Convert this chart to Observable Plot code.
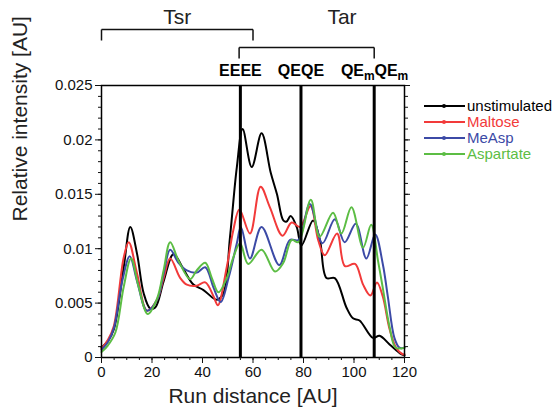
<!DOCTYPE html>
<html>
<head>
<meta charset="utf-8">
<script src="https://cdn.jsdelivr.net/npm/d3@7"></script>
<script src="https://cdn.jsdelivr.net/npm/@observablehq/plot@0.6"></script>
<style>
  html, body { margin: 0; padding: 0; background: #fff; }
  #wrap { position: relative; width: 558px; height: 414px; font-family: "Liberation Sans", Arial, sans-serif; }
  #legend { position: absolute; left: 424px; top: 98px; font-size: 15px; line-height: 16px; }
  .row { display: flex; align-items: center; height: 16px; }
  .sw { position: relative; width: 41px; height: 2px; margin-right: 2px; flex: none; }
  .sw i { position: absolute; left: 18px; top: -1px; width: 4px; height: 4px; border-radius: 2px; }
</style>
</head>
<body>
<div id="wrap"><div id="legend"></div></div>
<script>
// ---- data ----
const seriesNames = ["unstimulated", "Maltose", "MeAsp", "Aspartate"];
const seriesColors = ["#000000", "#f23a3a", "#3c4aa6", "#5cbd44"];

const unstimulated = [[0,0.0009],[2.5,0.0015],[4.9,0.0026],[8.8,0.0083],[11.4,0.0120],[14.1,0.0095],[16.7,0.0059],[19.3,0.0045],[21.3,0.0046],[24.6,0.0070],[28.5,0.0095],[32.5,0.0081],[36.4,0.0067],[40.4,0.0062],[45.7,0.0053],[48.3,0.0059],[50.9,0.0111],[53.6,0.0175],[55.9,0.0210],[59.5,0.0175],[63.4,0.0206],[67.0,0.0170],[69.5,0.0150],[72.0,0.0126],[73.3,0.0125],[74.9,0.0130],[77.3,0.0120],[79.2,0.0103],[83.8,0.0126],[86.5,0.0108],[89.1,0.0073],[92.4,0.0073],[97.0,0.0046],[99.6,0.0036],[102.2,0.0034],[107.5,0.0018],[110.1,0.0020],[114.1,0.0012],[118.7,0.0003],[120,0.0002]];
const maltose = [[0,0.0008],[2.5,0.0016],[4.9,0.0029],[8.8,0.0092],[10.8,0.0106],[14.1,0.0077],[18.0,0.0043],[22.0,0.0053],[24.6,0.0073],[27.2,0.0091],[31.2,0.0073],[33.8,0.0067],[37.7,0.0066],[41.1,0.0069],[44.4,0.0056],[46.1,0.0048],[49.6,0.0083],[52.2,0.0117],[54.6,0.0136],[58.8,0.0114],[63.0,0.0157],[66.7,0.0138],[71.7,0.0112],[75.3,0.0124],[78.6,0.0120],[82.8,0.0139],[85.8,0.0108],[88.4,0.0094],[93.3,0.0114],[96.4,0.0084],[100.4,0.0086],[103.6,0.0067],[106.5,0.0057],[109.1,0.0069],[111.4,0.0056],[114.1,0.0026],[116.7,0.0009],[119.3,0.0003],[120,0.0003]];
const meAsp = [[0,0.0007],[2.5,0.0014],[4.9,0.0027],[8.2,0.0070],[11.2,0.0093],[14.1,0.0070],[18.0,0.0043],[22.0,0.0053],[24.6,0.0077],[27.2,0.0099],[30.5,0.0087],[33.8,0.0080],[37.7,0.0078],[41.1,0.0083],[44.4,0.0064],[47.2,0.0051],[50.3,0.0073],[53.6,0.0105],[55.2,0.0120],[58.8,0.0091],[63.4,0.0120],[70.4,0.0085],[74.6,0.0108],[78.0,0.0108],[82.5,0.0141],[87.5,0.0105],[92.4,0.0127],[96.3,0.0106],[100.7,0.0123],[104.9,0.0091],[108.4,0.0113],[111.4,0.0086],[113.4,0.0056],[116.0,0.0018],[118.0,0.0009],[120,0.0009]];
const aspartate = [[0,0.0005],[2.5,0.0011],[5.5,0.0023],[8.8,0.0065],[11.7,0.0091],[14.7,0.0065],[18.3,0.0040],[22.0,0.0054],[24.6,0.0080],[27.2,0.0106],[30.5,0.0089],[35.1,0.0072],[37.7,0.0080],[41.1,0.0087],[43.7,0.0073],[46.3,0.0060],[49.6,0.0073],[52.2,0.0092],[54.9,0.0105],[58.1,0.0086],[63.4,0.0099],[68.7,0.0079],[72.0,0.0087],[75.3,0.0108],[78.0,0.0106],[82.9,0.0145],[86.4,0.0111],[91.7,0.0133],[95.0,0.0114],[99.0,0.0138],[103.6,0.0101],[106.8,0.0122],[109.5,0.0089],[111.4,0.0064],[114.1,0.0028],[116.5,0.0009],[120,0.0009]];

const markerLines = [55, 79, 108];
const motifLabels = ["EEEE", "QEQE", "QEm", "QEm"];
const motifX = [55, 79, 101.5, 114.8];
const bracketLabels = ["Tsr", "Tar"];
const bracketStart = [0, 54.5];
const bracketEnd = [60, 108];

const xTicks = [0, 20, 40, 60, 80, 100, 120];
const xMinor = d3.range(0, 121, 5);
const yTicks = [0, 0.005, 0.01, 0.015, 0.02, 0.025];
const yTickLabels = ["0", "0.005", "0.01", "0.015", "0.02", "0.025"];
const yMinor = d3.range(0, 26).map(i => i * 0.001);

const xTitle = "Run distance [AU]";
const yTitle = "Relative intensity [AU]";

// ---- layout ----
const W = 558, H = 414, mL = 101, mR = 154, mT = 85, mB = 57;
const yMax = 0.025;
const pxY = yMax / (H - mT - mB);           // data units per pixel
const above = px => yMax + px * pxY;          // position above plot frame

const all = [unstimulated, maltose, meAsp, aspartate];
const lineMarks = all.map((s, i) => Plot.line(s, {
  x: d => d[0], y: d => d[1], stroke: seriesColors[i], strokeWidth: 2, curve: "catmull-rom"
}));

const bracketMarks = [];
bracketLabels.forEach((lab, i) => {
  const top = above(56 - 18 * i), bot = above(45 - 18 * i);
  const b = [{x1: bracketStart[i], x2: bracketEnd[i]}];
  bracketMarks.push(Plot.link(b, {x1: "x1", x2: "x2", y1: () => top, y2: () => top, stroke: "#111", strokeWidth: 1.5}));
  bracketMarks.push(Plot.link(b, {x1: "x1", x2: "x1", y1: () => top, y2: () => bot, stroke: "#111", strokeWidth: 1.5}));
  bracketMarks.push(Plot.link(b, {x1: "x2", x2: "x2", y1: () => top, y2: () => bot, stroke: "#111", strokeWidth: 1.5}));
});
const labelMarks = Plot.text(bracketLabels, {
  x: (d, i) => (bracketStart[i] + bracketEnd[i]) / 2 + (i === 1 ? 14 : 0),
  y: () => above(68), text: d => d, fontSize: 21, fill: "#222"
});

const plot = Plot.plot({
  width: W, height: H,
  marginLeft: mL, marginRight: mR, marginTop: mT, marginBottom: mB,
  style: {fontFamily: "'Liberation Sans', Arial, sans-serif", fontSize: "15px", color: "#111", background: "#fff"},
  x: {domain: [0, 120]},
  y: {domain: [0, yMax]},
  marks: [
    ...lineMarks,
    Plot.ruleX(markerLines, {stroke: "#000", strokeWidth: 3}),
    Plot.frame({stroke: "#000", strokeWidth: 1.5}),
    Plot.axisX({ticks: xTicks, tickSize: 6, tickPadding: 3, tickFormat: d => String(d), label: null, fontSize: 15}),
    Plot.axisX({ticks: xMinor, tickSize: 3, text: null, label: null}),
    Plot.axisY({ticks: yTicks, tickSize: 6, tickPadding: 3, tickFormat: d => yTickLabels[yTicks.indexOf(d)], label: null, fontSize: 15}),
    Plot.axisY({ticks: yMinor, tickSize: 3, text: null, label: null}),
    Plot.axisY({anchor: "right", ticks: yTicks, tickSize: 5, text: null, label: null}),
    Plot.axisY({anchor: "right", ticks: yMinor, tickSize: 3, text: null, label: null}),
    ...bracketMarks,
    labelMarks,
    Plot.text(motifLabels, {x: (d, i) => motifX[i], y: () => above(15), text: d => d, fontWeight: "bold", fontSize: 16, fill: "#000"}),
    Plot.text([xTitle], {frameAnchor: "bottom", dy: 45, fontSize: 21, fill: "#222"}),
    Plot.text([yTitle], {frameAnchor: "left", dx: -81, rotate: -90, fontSize: 21, fill: "#222"})
  ]
});

// subscript m in QEm labels
d3.select(plot).selectAll("text").filter(function () { return this.textContent === "QEm"; })
  .each(function () {
    const t = d3.select(this);
    t.text("QE");
    t.append("tspan").attr("font-size", 12).attr("dy", 4).text("m");
  });

document.getElementById("wrap").prepend(plot);
plot.style.position = "absolute"; plot.style.left = "0"; plot.style.top = "0";

// legend
const leg = d3.select("#legend");
seriesNames.forEach((n, i) => {
  const r = leg.append("div").attr("class", "row");
  const sw = r.append("div").attr("class", "sw").style("background", seriesColors[i]);
  sw.append("i").style("background", seriesColors[i]);
  r.append("span").style("color", seriesColors[i]).text(n);
});
</script>
</body>
</html>
